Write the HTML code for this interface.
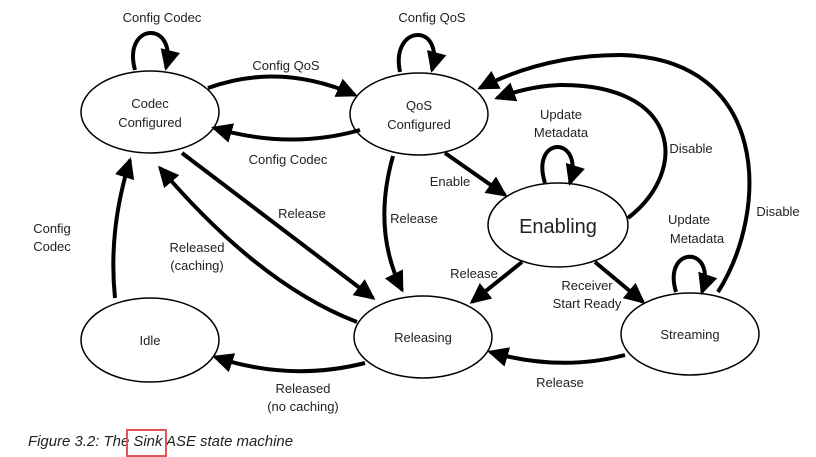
<!DOCTYPE html>
<html><head><style>
html,body{margin:0;padding:0;background:#fff;}
svg{display:block;}
text{font-family:"Liberation Sans",sans-serif;fill:#222;}
</style></head><body>
<svg width="816" height="457" viewBox="0 0 816 457" xmlns="http://www.w3.org/2000/svg">
<defs>
<marker id="a" markerUnits="userSpaceOnUse" markerWidth="24" markerHeight="24" refX="18" refY="10" orient="auto">
<path d="M0,0 L21,10 L0,20 Z" fill="#000"/>
</marker>
</defs>
<g fill="#fff" stroke="#000" stroke-width="1.5">
<ellipse cx="150" cy="112" rx="69" ry="41"/>
<ellipse cx="419" cy="114" rx="69" ry="41"/>
<ellipse cx="558" cy="225" rx="70" ry="42"/>
<ellipse cx="150" cy="340" rx="69" ry="42"/>
<ellipse cx="423" cy="337" rx="69" ry="41"/>
<ellipse cx="690" cy="334" rx="69" ry="41"/>
</g>
<g fill="none" stroke="#000" stroke-width="4" marker-end="url(#a)">
<path d="M135,70 C122,22 178,20 166,68"/>
<path d="M208,88 Q280,62 355,95"/>
<path d="M360,130 Q290,150 214,128"/>
<path d="M400,72 C390,24 445,22 432,70"/>
<path d="M445,153 L505,195"/>
<path d="M393,156 Q372,230 402,290"/>
<path d="M182,153 L373,298"/>
<path d="M357,322 Q260,285 160,168"/>
<path d="M115,298 Q108,230 130,160"/>
<path d="M365,363 Q290,382 215,357"/>
<path d="M628,218 C690,170 680,84 560,85 Q530,86 497,98"/>
<path d="M718,292 C770,210 770,58 620,55 Q545,55 480,88"/>
<path d="M545,183 C530,135 585,135 570,183"/>
<path d="M522,262 L472,302"/>
<path d="M595,262 L643,302"/>
<path d="M676,292 C662,245 718,245 702,292"/>
<path d="M625,355 Q560,372 490,352"/>
</g>
<g font-size="13" text-anchor="middle">
<text x="150" y="108">Codec</text><text x="150" y="127">Configured</text>
<text x="419" y="110">QoS</text><text x="419" y="129">Configured</text>
<text x="558" y="233" font-size="20">Enabling</text>
<text x="150" y="345">Idle</text>
<text x="423" y="342">Releasing</text>
<text x="690" y="339">Streaming</text>
<text x="162" y="22">Config Codec</text>
<text x="286" y="70">Config QoS</text>
<text x="288" y="164">Config Codec</text>
<text x="432" y="22">Config QoS</text>
<text x="450" y="186">Enable</text>
<text x="414" y="223">Release</text>
<text x="302" y="218">Release</text>
<text x="197" y="252">Released</text><text x="197" y="270">(caching)</text>
<text x="52" y="233">Config</text><text x="52" y="251">Codec</text>
<text x="303" y="393">Released</text><text x="303" y="411">(no caching)</text>
<text x="561" y="119">Update</text><text x="561" y="137">Metadata</text>
<text x="691" y="153">Disable</text>
<text x="778" y="216">Disable</text>
<text x="689" y="224">Update</text><text x="697" y="243">Metadata</text>
<text x="474" y="278">Release</text>
<text x="587" y="290">Receiver</text><text x="587" y="308">Start Ready</text>
<text x="560" y="387">Release</text>
</g>
<text x="28" y="446" font-size="15" font-style="italic" fill="#111" textLength="265" lengthAdjust="spacingAndGlyphs">Figure 3.2: The Sink ASE state machine</text>
<rect x="127" y="430" width="39" height="26" fill="none" stroke="#e05555" stroke-width="2"/>
</svg>
</body></html>
